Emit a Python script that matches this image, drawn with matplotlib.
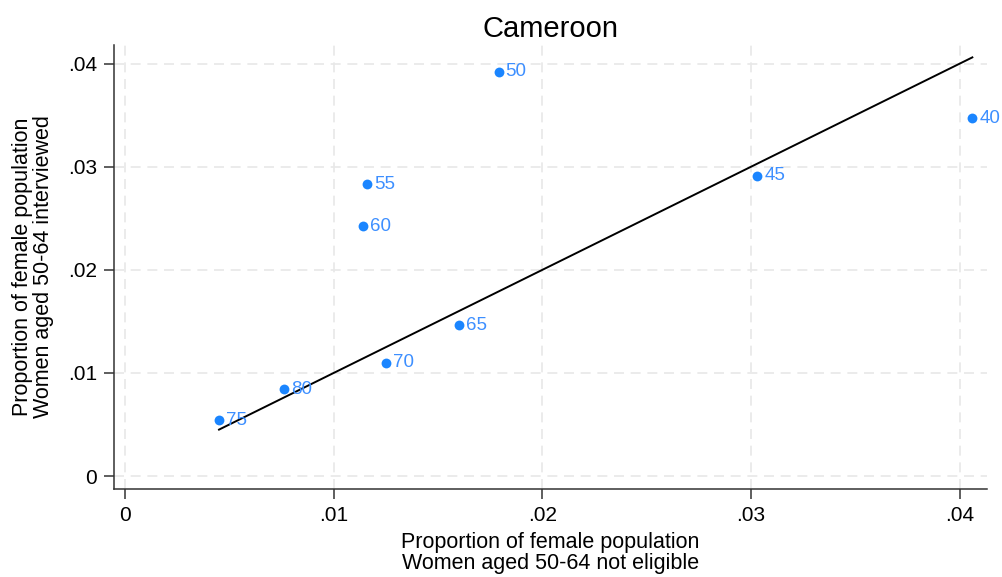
import numpy as np
import matplotlib.pyplot as plt

plt.rcParams['font.family'] = ['Liberation Sans', 'DejaVu Sans']

# Age groups and proportions of female population
ages = ['40', '45', '50', '55', '60', '65', '70', '75', '80']
not_eligible = [0.0406, 0.0303, 0.0179, 0.0116, 0.0114, 0.0160, 0.0125, 0.0045, 0.0076]
interviewed = [0.0347, 0.0291, 0.0392, 0.0283, 0.0242, 0.0146, 0.0110, 0.0054, 0.0084]

fig = plt.figure(figsize=(10.03, 5.77), dpi=100)
ax = fig.add_axes([0.1137, 0.1525, 0.8703, 0.7695])

x = np.array(not_eligible)
y = np.array(interviewed)

ax.scatter(x, y, s=50, color='#1a85ff', zorder=3, linewidths=0)
for xi, yi, lab in zip(x, y, ages):
    ax.annotate(lab, (xi, yi), xytext=(5, 0), textcoords='offset points',
                va='center', ha='left', fontsize=13.5, color='#3d8fff', zorder=4)

# 45-degree reference line across the range of x
xr = np.array([x.min(), x.max()])
ax.plot(xr, xr, color='black', lw=1.4, zorder=2)

ax.set_xlim(-0.00053, 0.0413)
ax.set_ylim(-0.00126, 0.0418)
ticks = [0, 0.01, 0.02, 0.03, 0.04]
tick_labels = ['0', '.01', '.02', '.03', '.04']
ax.set_xticks(ticks)
ax.set_xticklabels(tick_labels)
ax.set_yticks(ticks)
ax.set_yticklabels(tick_labels)
ax.tick_params(labelsize=15, length=7, width=1.1, color='#333333', pad=5)

ax.grid(True, color='#e8e8e8', linestyle=(0, (6, 4)), lw=1.2, zorder=0)
ax.set_axisbelow(True)
for side in ['top', 'right']:
    ax.spines[side].set_visible(False)
for side in ['left', 'bottom']:
    ax.spines[side].set_color('#333333')
    ax.spines[side].set_linewidth(1.1)

ax.set_title('Cameroon', fontsize=21, pad=6)
ax.set_xlabel('Proportion of female population\nWomen aged 50-64 not eligible',
              fontsize=15.5, linespacing=1.0, labelpad=5)
ax.set_ylabel('Proportion of female population\nWomen aged 50-64 interviewed',
              fontsize=15.5, linespacing=1.0, labelpad=10)

fig.savefig('out.png', dpi=100)
